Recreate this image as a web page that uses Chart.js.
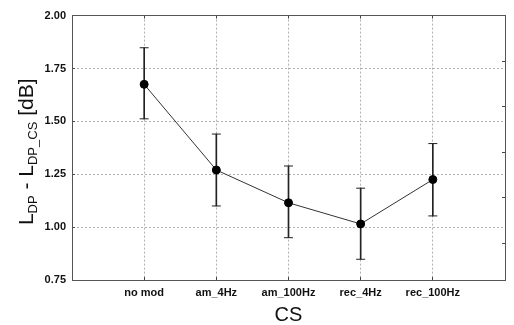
<!DOCTYPE html>
<html>
<head>
<meta charset="utf-8">
<script src="https://cdn.jsdelivr.net/npm/chart.js@4"></script>
<style>
  body { margin: 0; background: #fff; }
  #chart { display: block; }
</style>
</head>
<body>
<canvas id="chart" width="514" height="325"></canvas>
<script>
const categories = ['no mod', 'am_4Hz', 'am_100Hz', 'rec_4Hz', 'rec_100Hz'];
const means = [1.675, 1.27, 1.115, 1.015, 1.225];
const upper = [1.848, 1.44, 1.289, 1.184, 1.395];
const lower = [1.512, 1.10, 0.95, 0.848, 1.053];
const yTicks = [0.75, 1.00, 1.25, 1.50, 1.75, 2.00];

const FONT = "'Liberation Sans', Arial, sans-serif";
const xs = categories.map((c, i) => i + 1);

// y title has subscripts, so it is drawn by hand
const yTitlePlugin = {
  id: 'yTitle',
  afterDraw(chart) {
    const { ctx, chartArea } = chart;
    const parts = [
      { t: 'L', sub: false },
      { t: 'DP', sub: true },
      { t: ' - L', sub: false },
      { t: 'DP_CS', sub: true },
      { t: ' [dB]', sub: false }
    ];
    const big = '21px ' + FONT;
    const small = '13px ' + FONT;
    ctx.save();
    let total = 0;
    parts.forEach(p => {
      ctx.font = p.sub ? small : big;
      p.w = ctx.measureText(p.t).width;
      total += p.w;
    });
    ctx.translate(33, (chartArea.top + chartArea.bottom) / 2 + 4);
    ctx.rotate(-Math.PI / 2);
    ctx.fillStyle = '#111';
    ctx.textBaseline = 'alphabetic';
    let x = -total / 2;
    parts.forEach(p => {
      ctx.font = p.sub ? small : big;
      ctx.fillText(p.t, x, p.sub ? 4 : 0);
      x += p.w;
    });
    ctx.restore();
  }
};

const gridColor = '#b0b0b0';
const frameColor = '#555';

new Chart(document.getElementById('chart'), {
  type: 'line',
  data: {
    datasets: [
      {
        label: 'mean',
        data: xs.map((x, i) => ({ x, y: means[i] })),
        borderColor: '#333',
        borderWidth: 1,
        pointBackgroundColor: '#000',
        pointBorderColor: '#000',
        pointRadius: 4,
        tension: 0,
        order: 0
      },
      {
        type: 'bar',
        label: 'err',
        data: xs.map((x, i) => ({ x, y: [lower[i], upper[i]] })),
        backgroundColor: '#222',
        barThickness: 1,
        order: 2
      },
      {
        label: 'capHi',
        data: xs.map((x, i) => ({ x, y: upper[i] })),
        showLine: false,
        pointStyle: 'line',
        pointRadius: 4.5,
        pointBorderWidth: 1,
        pointBorderColor: '#222',
        order: 1
      },
      {
        label: 'capLo',
        data: xs.map((x, i) => ({ x, y: lower[i] })),
        showLine: false,
        pointStyle: 'line',
        pointRadius: 4.5,
        pointBorderWidth: 1,
        pointBorderColor: '#222',
        order: 1
      }
    ]
  },
  options: {
    responsive: false,
    animation: false,
    layout: { padding: { top: 14, right: 2, left: 0, bottom: 0 } },
    plugins: { legend: { display: false }, tooltip: { enabled: false } },
    scales: {
      x: {
        type: 'linear',
        position: 'bottom',
        min: 0,
        max: 6,
        offset: false,
        afterFit: s => { s.height = 45; },
        ticks: {
          stepSize: 1,
          padding: 9,
          color: '#111',
          font: { family: FONT, size: 11, weight: 'bold' },
          callback: v => categories[v - 1] || ''
        },
        grid: {
          offset: false,
          color: c => (c.tick && (c.tick.value === 0 || c.tick.value === 6)) ? 'rgba(0,0,0,0)' : gridColor,
          tickLength: -3,
          tickColor: '#444',
          tickBorderDash: []
        },
        border: { color: frameColor, width: 1, dash: [2, 2] },
        title: {
          display: true,
          text: 'CS',
          color: '#111',
          padding: 0,
          font: { family: FONT, size: 20, lineHeight: 1 }
        }
      },
      x2: {
        type: 'linear',
        position: 'top',
        min: 0,
        max: 6,
        afterFit: s => { s.height = 0; },
        ticks: { display: false, stepSize: 1 },
        grid: { drawOnChartArea: false, tickLength: -3, tickColor: '#444' },
        border: { color: frameColor, width: 1 }
      },
      y: {
        position: 'left',
        min: 0.75,
        max: 2.0,
        afterFit: s => { s.width = 72; },
        afterBuildTicks: s => { s.ticks = yTicks.map(v => ({ value: v })); },
        ticks: {
          padding: 9,
          color: '#111',
          font: { family: FONT, size: 11, weight: 'bold' },
          callback: v => Number(v).toFixed(2)
        },
        grid: {
          color: c => (c.tick && (c.tick.value === 0.75 || c.tick.value === 2)) ? 'rgba(0,0,0,0)' : gridColor,
          tickLength: -3,
          tickColor: '#444',
          tickBorderDash: []
        },
        border: { color: frameColor, width: 1, dash: [2, 2] }
      },
      y2: {
        position: 'right',
        min: 0,
        max: 5.81,
        reverse: true,
        afterFit: s => { s.width = 0; },
        ticks: { display: false, stepSize: 1 },
        grid: { drawOnChartArea: false, tickLength: -3, tickColor: '#444' },
        border: { color: frameColor, width: 1 }
      }
    }
  },
  plugins: [yTitlePlugin]
});
</script>
</body>
</html>
